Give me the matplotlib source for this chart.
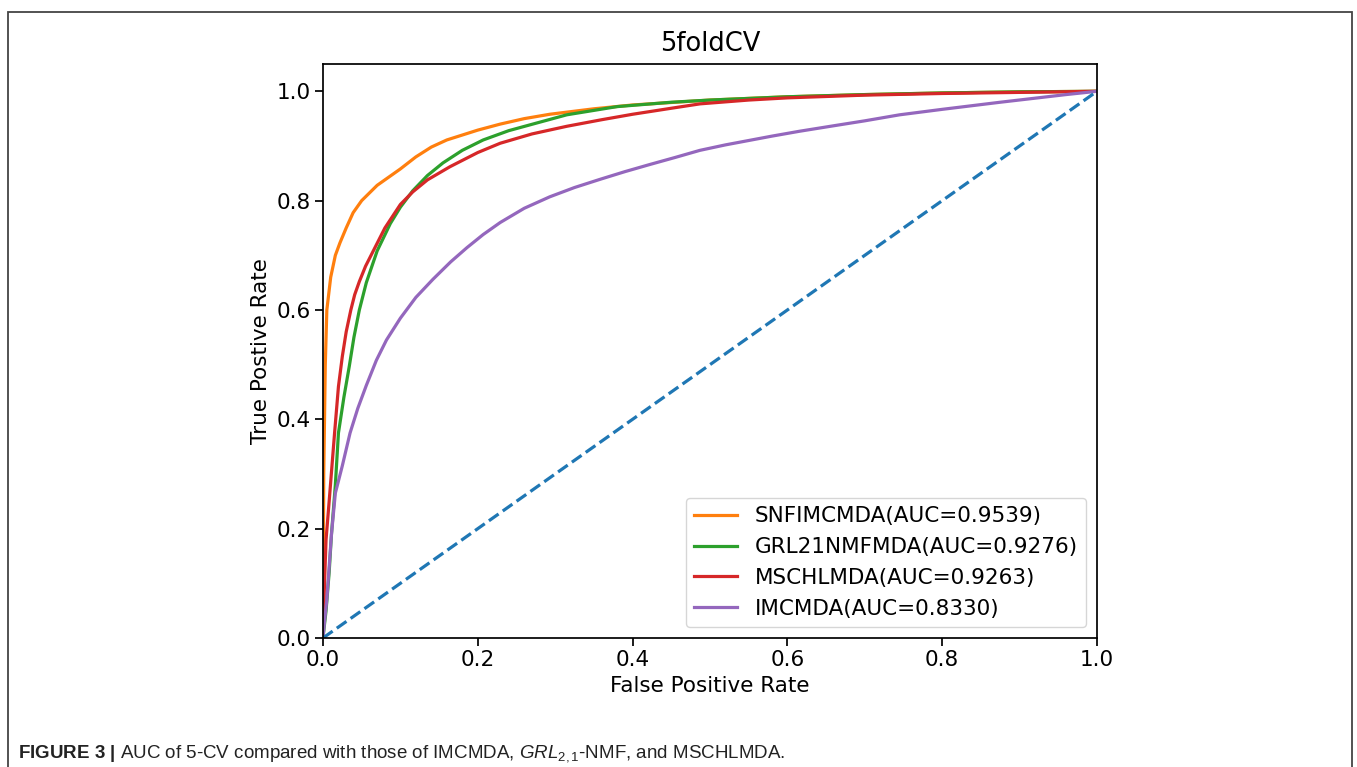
import matplotlib
matplotlib.use('Agg')
import matplotlib.pyplot as plt
from matplotlib import font_manager
from matplotlib.patches import Rectangle

# ROC points
snf_fpr = [0, 0.001, 0.003, 0.005, 0.01, 0.016, 0.022, 0.03, 0.039, 0.05, 0.07, 0.1, 0.12,
           0.14, 0.16, 0.18, 0.2, 0.229, 0.26, 0.293, 0.35, 0.4, 0.5, 0.6, 0.7, 0.8, 0.9, 1.0]
snf_tpr = [0, 0.30, 0.50, 0.60, 0.66, 0.70, 0.723, 0.75, 0.778, 0.80, 0.828, 0.858, 0.88,
           0.898, 0.911, 0.92, 0.929, 0.94, 0.95, 0.958, 0.968, 0.975, 0.984, 0.99, 0.994,
           0.997, 0.999, 1.0]

grl_fpr = [0, 0.004, 0.008, 0.011, 0.016, 0.02, 0.027, 0.034, 0.04, 0.047, 0.056, 0.07, 0.087,
           0.1, 0.116, 0.135, 0.155, 0.18, 0.207, 0.24, 0.271, 0.315, 0.38, 0.45, 0.5, 0.6,
           0.7, 0.8, 0.9, 1.0]
grl_tpr = [0, 0.05, 0.12, 0.19, 0.28, 0.375, 0.44, 0.497, 0.55, 0.60, 0.65, 0.708, 0.758,
           0.788, 0.818, 0.846, 0.869, 0.892, 0.911, 0.928, 0.94, 0.957, 0.972, 0.98, 0.984,
           0.99, 0.994, 0.997, 0.999, 1.0]

msc_fpr = [0, 0.002, 0.004, 0.008, 0.015, 0.02, 0.025, 0.03, 0.036, 0.041, 0.047, 0.055,
           0.065, 0.08, 0.1, 0.116, 0.135, 0.164, 0.2, 0.229, 0.27, 0.315, 0.36, 0.4, 0.45,
           0.487, 0.55, 0.6, 0.7, 0.8, 0.9, 1.0]
msc_tpr = [0, 0.10, 0.18, 0.25, 0.375, 0.46, 0.515, 0.56, 0.60, 0.628, 0.652, 0.68,
           0.708, 0.75, 0.793, 0.816, 0.838, 0.862, 0.888, 0.905, 0.922, 0.936, 0.948, 0.958,
           0.969, 0.977, 0.984, 0.988, 0.993, 0.996, 0.998, 1.0]

imc_fpr = [0, 0.002, 0.005, 0.008, 0.011, 0.016, 0.025, 0.035, 0.045, 0.056, 0.069, 0.082, 0.1,
           0.12, 0.142, 0.165, 0.186, 0.207, 0.229, 0.26, 0.293, 0.325, 0.358, 0.39, 0.422,
           0.455, 0.487, 0.52, 0.55, 0.58, 0.616, 0.66, 0.7, 0.745, 0.8, 0.875, 0.96, 1.0]
imc_tpr = [0, 0.03, 0.07, 0.13, 0.19, 0.265, 0.315, 0.375, 0.42, 0.462, 0.508, 0.545, 0.585,
           0.623, 0.656, 0.688, 0.714, 0.738, 0.76, 0.786, 0.807, 0.824, 0.839, 0.853, 0.866,
           0.879, 0.892, 0.902, 0.91, 0.918, 0.927, 0.937, 0.946, 0.957, 0.967, 0.98, 0.994,
           1.0]

labels = ['SNFIMCMDA(AUC=0.9539)', 'GRL21NMFMDA(AUC=0.9276)',
          'MSCHLMDA(AUC=0.9263)', 'IMCMDA(AUC=0.8330)']
ticks = [0.0, 0.2, 0.4, 0.6, 0.8, 1.0]


def pick_font(names):
    for n in names:
        try:
            font_manager.findfont(n, fallback_to_default=False)
            return n
        except Exception:
            pass
    return 'DejaVu Sans'


cap_font = pick_font(['Liberation Sans Narrow', 'Liberation Sans'])
plt.rcParams['mathtext.fontset'] = 'custom'
plt.rcParams['mathtext.rm'] = cap_font
plt.rcParams['mathtext.it'] = cap_font + ':italic'
plt.rcParams['mathtext.bf'] = cap_font + ':bold'

fig = plt.figure(figsize=(13.57, 7.67), dpi=100)
ax = fig.add_axes([0.238, 0.1682, 0.5704, 0.7484])

lw = 2.3
ax.plot(snf_fpr, snf_tpr, color='tab:orange', lw=lw, label=labels[0])
ax.plot(grl_fpr, grl_tpr, color='tab:green', lw=lw, label=labels[1])
ax.plot(msc_fpr, msc_tpr, color='tab:red', lw=lw, label=labels[2])
ax.plot(imc_fpr, imc_tpr, color='tab:purple', lw=lw, label=labels[3])
ax.plot([0, 1], [0, 1], color='tab:blue', lw=lw, ls='--')

ax.set_xlim(0, 1)
ax.set_ylim(0, 1.05)
ax.set_xticks(ticks)
ax.set_yticks(ticks)
ax.tick_params(labelsize=15.5, length=5.5, width=1.25)
for s in ax.spines.values():
    s.set_linewidth(1.25)
ax.set_xlabel('False Positive Rate', fontsize=15.5)
ax.set_ylabel('True Postive Rate', fontsize=15.5)
ax.set_title('5foldCV', fontsize=18.5, pad=9)
ax.legend(loc='lower right', fontsize=15.5)

# outer frame of the figure panel
fig.add_artist(Rectangle((8 / 1357, -0.05), 1344 / 1357, 1.05 - 12 / 767,
                         transform=fig.transFigure, fill=False,
                         edgecolor='#444444', lw=1.3))

fig.text(18 / 1357, 1 - 757 / 767,
         r'$\mathbf{FIGURE\ 3\ |}$ AUC of 5-CV compared with those of IMCMDA, '
         r'$\mathit{GRL}_{2,1}$-NMF, and MSCHLMDA.',
         fontsize=13.5, family=cap_font, color='#222222', va='baseline')

fig.savefig('out.png', dpi=100)
